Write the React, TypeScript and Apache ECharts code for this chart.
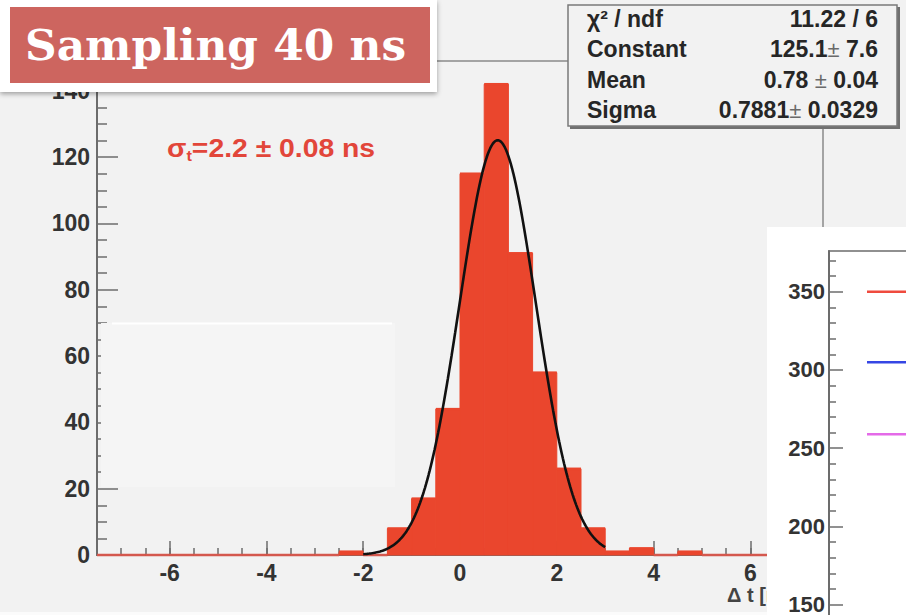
import React, { useEffect, useRef } from "react";
import * as echarts from "echarts";

// Histogram of the time difference, 0.5 ns bins from -7.5 to 7.5
const BIN_START = -7.5;
const BIN_WIDTH = 0.5;
const COUNTS = [
  0, 0, 0, 0, 0, 0, 0, 0, 0, 0,
  1, 0, 8, 17, 44, 115, 142, 91, 55, 26,
  8, 1, 2, 0, 1, 0, 0, 0, 0, 0,
];

// Gaussian fit (parameters as printed in the stats box)
const FIT_CONSTANT = 125.1;
const FIT_MEAN = 0.78;
const FIT_SIGMA = 0.7881;
const FIT_RANGE = [-2, 3];

const X_LABELS = [-6, -4, -2, 0, 2, 4, 6];
const Y_LABELS = [0, 20, 40, 60, 80, 100, 120, 140];

const STATS_NAMES = ["χ² / ndf", "Constant", "Mean", "Sigma"];
const STATS_VALUES = [["11.22 / 6"], ["125.1", " 7.6"], ["0.78 ", " 0.04"], ["0.7881", " 0.0329"]];

// Neighbouring panel: y ticks and three level lines
const INSET_Y_LABELS = [150, 200, 250, 300, 350];
const INSET_LEVELS = [350, 305, 259];
const INSET_COLORS = ["#ef4a3e", "#3546e4", "#e46ae8"];
const INSET_X = [1, 5];

const BG = "#f2f2f2";
const AXIS = "#6c6c6c";
const BAR = "#ea462d";
const LABEL = "#333333";
const SANS = "'Liberation Sans', Arial, Helvetica, sans-serif";

export default function App() {
  const ref = useRef<HTMLDivElement>(null);

  useEffect(() => {
    if (!ref.current) return;
    const chart = echarts.init(ref.current, null, { renderer: "svg" });

    const bins = COUNTS.map((n, i) => {
      const lo = BIN_START + i * BIN_WIDTH;
      return [lo, lo + BIN_WIDTH, n];
    });

    const fitPts: number[][] = [];
    for (let x = FIT_RANGE[0]; x <= FIT_RANGE[1] + 1e-9; x += 0.025) {
      const z = (x - FIT_MEAN) / FIT_SIGMA;
      fitPts.push([x, FIT_CONSTANT * Math.exp(-0.5 * z * z)]);
    }

    const labelStyle = {
      fontSize: 23,
      fontWeight: "bold" as const,
      color: LABEL,
      fontFamily: SANS,
    };

    const statsEls: any[] = [];
    const rowY = [19, 49, 80, 110];
    STATS_NAMES.forEach((name, i) => {
      statsEls.push({
        type: "text",
        x: 587,
        y: rowY[i],
        z: 62,
        style: {
          text: name,
          font: `bold 23px ${SANS}`,
          fill: "#262626",
          align: "left",
          verticalAlign: "middle",
        },
      });
      const v = STATS_VALUES[i];
      const txt = v.length === 1 ? `{v|${v[0]}}` : `{v|${v[0]}}{pm|±}{v|${v[1]}}`;
      statsEls.push({
        type: "text",
        x: 878,
        y: rowY[i],
        z: 62,
        style: {
          text: txt,
          align: "right",
          verticalAlign: "middle",
          rich: {
            v: { fontSize: 23, fontWeight: "bold", fontFamily: SANS, fill: "#262626" },
            pm: { fontSize: 22, fontWeight: "normal", fontFamily: SANS, fill: "#6a6a6a" },
          },
        },
      });
    });

    const option: any = {
      animation: false,
      backgroundColor: BG,
      grid: [
        {
          left: 97,
          top: 61,
          width: 726,
          height: 494,
          outerBoundsMode: "none",
          show: true,
          borderColor: "#8a8a8a",
          borderWidth: 1.5,
          backgroundColor: "transparent",
        },
        {
          left: 829,
          top: 251,
          width: 190,
          height: 432,
          outerBoundsMode: "none",
          show: true,
          borderColor: AXIS,
          borderWidth: 1.5,
          backgroundColor: "transparent",
          z: 45,
        },
      ],
      xAxis: [
        {
          gridIndex: 0,
          type: "value",
          position: "bottom",
          min: -7.5,
          max: 7.5,
          interval: 0.5,
          axisLine: { show: true, onZero: false, lineStyle: { color: AXIS, width: 2 } },
          axisTick: { show: true, inside: true, length: 7, lineStyle: { color: AXIS, width: 1.5 } },
          axisLabel: { ...labelStyle, customValues: X_LABELS, margin: 6 },
          splitLine: { show: false },
        },
        {
          gridIndex: 0,
          type: "value",
          position: "bottom",
          min: -7.5,
          max: 7.5,
          axisLine: { show: false, onZero: false },
          axisTick: {
            show: true,
            inside: true,
            length: 14,
            customValues: X_LABELS,
            lineStyle: { color: AXIS, width: 1.5 },
          },
          axisLabel: { show: false },
          splitLine: { show: false },
        },
        {
          gridIndex: 1,
          type: "value",
          min: 0,
          max: 5,
          show: false,
          axisLine: { onZero: false },
        },
      ],
      yAxis: [
        {
          gridIndex: 0,
          type: "value",
          position: "left",
          min: 0,
          max: 149,
          interval: 20,
          axisLine: { show: true, onZero: false, lineStyle: { color: AXIS, width: 2 } },
          axisTick: {
            show: true,
            inside: true,
            length: 21,
            customValues: Y_LABELS,
            lineStyle: { color: AXIS, width: 1.5 },
          },
          minorTick: { show: true, splitNumber: 4, length: 10, lineStyle: { color: AXIS, width: 1.5 } },
          axisLabel: { ...labelStyle, customValues: Y_LABELS, margin: 7 },
          splitLine: { show: false },
        },
        {
          gridIndex: 1,
          type: "value",
          position: "left",
          min: 100,
          max: 376,
          interval: 50,
          z: 50,
          axisLine: { show: true, onZero: false, lineStyle: { color: AXIS, width: 2 } },
          axisTick: {
            show: true,
            inside: true,
            length: 14,
            customValues: INSET_Y_LABELS,
            lineStyle: { color: AXIS, width: 1.5 },
          },
          minorTick: { show: true, splitNumber: 5, length: 7, lineStyle: { color: AXIS, width: 1.5 } },
          axisLabel: { ...labelStyle, fontSize: 22, customValues: INSET_Y_LABELS, margin: 4 },
          splitLine: { show: false },
        },
      ],
      series: [
        {
          type: "custom",
          xAxisIndex: 0,
          yAxisIndex: 0,
          z: 2,
          encode: { x: [0, 1], y: 2 },
          data: bins,
          renderItem: (_params: any, api: any) => {
            const lo = api.value(0);
            const hi = api.value(1);
            const n = api.value(2);
            const p0 = api.coord([lo, n]);
            const p1 = api.coord([hi, 0]);
            return {
              type: "group",
              children: [
                {
                  type: "rect",
                  shape: { x: p0[0], y: p0[1], width: p1[0] - p0[0], height: p1[1] - p0[1] },
                  style: { fill: BAR, stroke: BAR, lineWidth: 1 },
                },
                {
                  type: "line",
                  shape: { x1: p0[0], y1: p0[1], x2: p1[0], y2: p0[1] },
                  style: { stroke: n > 0 ? BAR : "#d4584e", lineWidth: 2.5 },
                },
              ],
            };
          },
        },
        {
          type: "line",
          xAxisIndex: 0,
          yAxisIndex: 0,
          z: 3,
          data: fitPts,
          showSymbol: false,
          smooth: false,
          lineStyle: { color: "#111111", width: 2.6 },
        },
        ...INSET_LEVELS.map((lv, i) => ({
          type: "line",
          xAxisIndex: 2,
          yAxisIndex: 1,
          z: 50,
          data: INSET_X.map((x) => [x, lv]),
          showSymbol: false,
          lineStyle: { color: INSET_COLORS[i], width: 2.5 },
        })),
      ],
      graphic: [
        // faint empty box on the lower left of the frame
        {
          type: "rect",
          z: 35,
          shape: { x: 101, y: 323, width: 294, height: 164 },
          style: { fill: "#f5f5f5" },
        },
        {
          type: "line",
          z: 36,
          shape: { x1: 112, y1: 323.5, x2: 392, y2: 323.5 },
          style: { stroke: "#ffffff", lineWidth: 2 },
        },
        // x axis title
        {
          type: "text",
          x: 727,
          y: 595,
          z: 30,
          style: {
            text: "Δ t [ns]",
            font: `bold 20px ${SANS}`,
            fill: "#444444",
            align: "left",
            verticalAlign: "middle",
          },
        },
        // bottom strip
        {
          type: "rect",
          z: 35,
          shape: { x: 0, y: 612, width: 767, height: 3 },
          style: { fill: "#fbfbfb" },
        },
        // white panel of the neighbouring plot
        {
          type: "rect",
          z: 40,
          shape: { x: 767, y: 227, width: 139, height: 388 },
          style: { fill: "#ffffff" },
        },
        // sigma_t annotation
        {
          type: "text",
          x: 167,
          y: 148,
          z: 40,
          scaleX: 1.09,
          style: {
            text: "{s|σ}{t|t}{r|=2.2 ± 0.08 ns}",
            verticalAlign: "middle",
            align: "left",
            rich: {
              s: { fontSize: 26, fontWeight: "bold", fontFamily: SANS, fill: "#e2463a", lineHeight: 30 },
              t: {
                fontSize: 15,
                fontWeight: "bold",
                fontFamily: SANS,
                fill: "#e2463a",
                lineHeight: 14,
                verticalAlign: "bottom",
              },
              r: { fontSize: 26, fontWeight: "bold", fontFamily: SANS, fill: "#e2463a", lineHeight: 30 },
            },
          },
        },
        // stats box
        {
          type: "polyline",
          z: 60,
          shape: { points: [[570, 127.5], [898.5, 127.5], [898.5, 7]] },
          style: { stroke: "#707070", lineWidth: 3, fill: null },
        },
        {
          type: "rect",
          z: 61,
          shape: { x: 568, y: 5, width: 329, height: 121 },
          style: { fill: BG, stroke: "#7a7a7a", lineWidth: 1.5 },
        },
        ...statsEls,
        // title badge
        {
          type: "rect",
          z: 70,
          shape: { x: 0, y: 0, width: 437, height: 92 },
          style: {
            fill: "#ffffff",
            shadowBlur: 5,
            shadowOffsetY: 2,
            shadowColor: "rgba(0,0,0,0.35)",
          },
        },
        {
          type: "rect",
          z: 71,
          shape: { x: 10, y: 7, width: 420, height: 76 },
          style: { fill: "#cd655f" },
        },
        {
          type: "text",
          x: 25,
          y: 45,
          z: 72,
          scaleX: 1.02,
          style: {
            text: "Sampling 40 ns",
            font: "bold 43px 'DejaVu Serif', serif",
            fill: "#ffffff",
            align: "left",
            verticalAlign: "middle",
          },
        },
      ],
    };

    chart.setOption(option);
    return () => chart.dispose();
  }, []);

  return (
    <div
      ref={ref}
      style={{ position: "fixed", left: 0, top: 0, width: 906, height: 615 }}
    />
  );
}
